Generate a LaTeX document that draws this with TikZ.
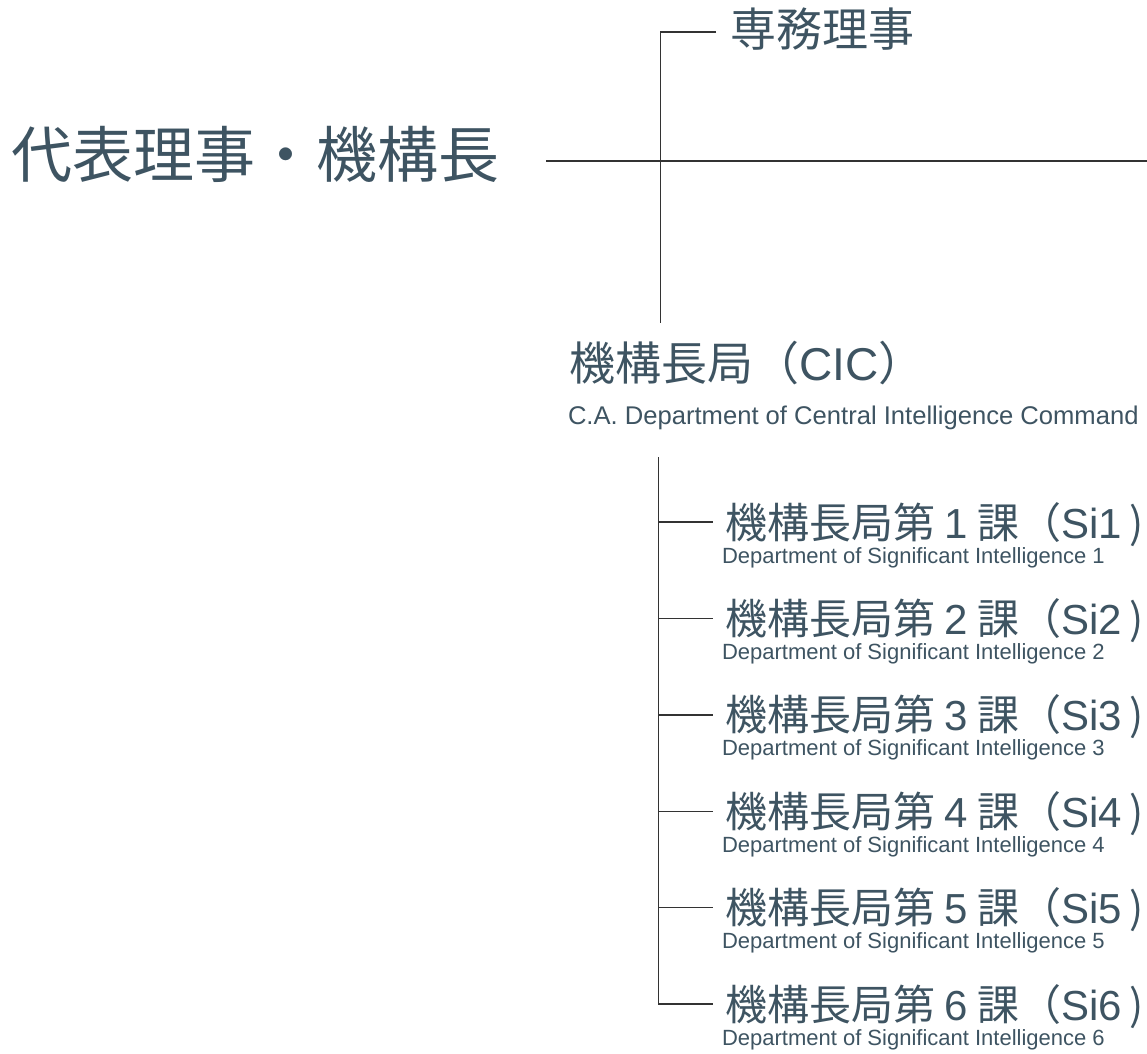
\documentclass[tikz,border=0pt]{standalone}
\usepackage{fontspec}
\setmainfont{Noto Sans CJK JP}
\newfontfamily\latf{Liberation Sans}
\newfontfamily\cjkprop[RawFeature=+pwid]{Noto Sans CJK JP}
\newcommand{\closep}{\hspace{0.18em}{\cjkprop ）}}
\definecolor{txt}{HTML}{3E5462}
\definecolor{ln}{HTML}{333333}
\tikzset{
  lbl/.style={anchor=base west, inner sep=0pt, outer sep=0pt, text=txt},
  big/.style={lbl, font=\fontsize{61}{70}\selectfont},
  mid/.style={lbl, font=\fontsize{46}{52}\selectfont},
  item/.style={lbl, font=\fontsize{42}{48}\selectfont},
  subcic/.style={lbl, font=\latf\fontsize{25.6}{30}\selectfont},
  subitem/.style={lbl, font=\latf\fontsize{22}{25}\selectfont},
  conn/.style={draw=ln, line width=1.4pt}
}
\begin{document}
\begin{tikzpicture}[x=1pt,y=-1pt]
\useasboundingbox[fill=white] (0,0) rectangle (1147,1053);
% text nodes
\node[big] (ceo) at (11,177.6) {代表理事・機構長};
\node[mid] (senmu) at (730,46.5) {専務理事};
\node[mid] (cic) at (569,380.5) {機構長局（{\latf CIC}）};
\node[subcic] (cicsub) at (568,424) {C.A. Department of Central Intelligence Command};
\foreach \i in {1,...,6} {
  \pgfmathsetmacro{\ty}{522+96.4*(\i-1)}
  \node[item] (si\i) at (725,\ty+16) {機構長局第 {\latf\i} 課（{\latf Si\i}\closep};
  \node[subitem] (sisub\i) at (722,\ty+41) {Department of Significant Intelligence \i};
  \coordinate (t\i) at (658.5,\ty);
  \coordinate (te\i) at (713,\ty);
}
% junction coordinates
\coordinate (v1top) at (660.5,32);
\coordinate (v1bot) at (660.5,323);
\coordinate (senmuend) at (716,32);
\coordinate (hstart) at (546,161);
\coordinate (hend) at (1147,161);
\coordinate (v2top) at (658.5,457);
% connectors
\draw[conn] (senmuend) -- (v1top) -- (v1bot);
\draw[conn] (hstart) -- (hend);
\draw[conn] (v2top) -- (t6) -- (te6);
\foreach \i in {1,...,5} { \draw[conn] (t\i) -- (te\i); }
\end{tikzpicture}
\end{document}
